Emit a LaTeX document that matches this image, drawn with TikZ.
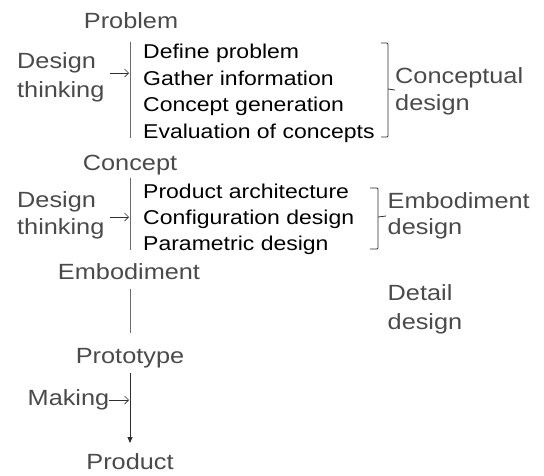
\documentclass[tikz,border=0pt]{standalone}
\usepackage{fontspec}
\setmainfont{Liberation Sans}[FakeStretch=1.15]
\usetikzlibrary{arrows.meta}
\definecolor{labelgray}{HTML}{4A4A4A}
\definecolor{linegray}{HTML}{6A6A6A}
\definecolor{inkdark}{HTML}{2E2E2E}
\begin{document}
\begin{tikzpicture}[x=1pt,y=-1pt,
  stage/.style={font=\fontsize{22}{26}\selectfont, text=labelgray, inner sep=0pt, anchor=base},
  side/.style={font=\fontsize{22}{26}\selectfont, text=labelgray, inner sep=0pt, anchor=base west},
  task/.style={font=\fontsize{20}{24}\selectfont, text=black, inner sep=0pt, anchor=base west},
  flow/.style={draw=linegray, line width=0.8pt},
  feed/.style={draw=inkdark, line width=0.7pt, -{Straight Barb[length=4pt,width=8pt]}},
  brace/.style={draw=inkdark, line width=0.8pt, rounded corners=1pt},
  finish/.style={draw=inkdark, line width=0.8pt, -{Triangle[length=6pt,width=5pt]}},
]
\useasboundingbox (0,0) rectangle (544,475);

% main column of stages
\node[stage] (problem) at (131,28) {Problem};
\node[stage] (concept) at (130,170) {Concept};
\node[stage] (embod)   at (129,279) {Embodiment};
\node[stage] (proto)   at (130,363) {Prototype};
\node[stage] (product) at (130,469.5) {Product};

% conceptual design block
\node[side] (dtA1) at (17,68) {Design};
\node[side] (dtA2) at (17,97) {thinking};
\node[task] (c1) at (143,58)  {Define problem};
\node[task] (c2) at (143,85)  {Gather information};
\node[task] (c3) at (143,111) {Concept generation};
\node[task] (c4) at (143,138) {Evaluation of concepts};
\coordinate (v1t) at (130,42);
\coordinate (v1b) at (130,138);
\coordinate (a1s) at (110,73);
\coordinate (a1e) at (129,73);
\draw[flow] (v1t) -- (v1b);
\draw[feed] (a1s) -- (a1e);

% embodiment design block
\node[side] (dtB1) at (17,207) {Design};
\node[side] (dtB2) at (17,234) {thinking};
\node[task] (e1) at (143,198) {Product architecture};
\node[task] (e2) at (143,224) {Configuration design};
\node[task] (e3) at (143,250) {Parametric design};
\coordinate (v2t) at (130,178);
\coordinate (v2b) at (130,250);
\coordinate (a2s) at (110,217);
\coordinate (a2e) at (129,217);
\draw[flow] (v2t) -- (v2b);
\draw[feed] (a2s) -- (a2e);

% embodiment to prototype
\coordinate (v3t) at (130,289);
\coordinate (v3b) at (130,333);
\draw[flow] (v3t) -- (v3b);

% making
\node[side] (make) at (27.5,405) {Making};
\coordinate (a3s) at (109,400);
\coordinate (a3e) at (129,400);
\coordinate (v4t) at (130,373);
\coordinate (v4b) at (130,443);
\draw[finish] (v4t) -- (v4b);
\draw[feed] (a3s) -- (a3e);

% brackets and phase names
\coordinate (b1t) at (381,43);
\coordinate (b1b) at (381,137);
\coordinate (b1m) at (388,89);
\draw[brace] (b1t) -- (388,43) -- (388,137) -- (b1b);
\draw[brace] (b1m) -- (395,90);
\node[side] (ph1a) at (395,83)  {Conceptual};
\node[side] (ph1b) at (395,110) {design};

\coordinate (b2t) at (370,188);
\coordinate (b2b) at (370,249);
\coordinate (b2m) at (378,217);
\draw[brace] (b2t) -- (378,188) -- (378,249) -- (b2b);
\draw[brace] (b2m) -- (386,216);
\node[side] (ph2a) at (387.5,208) {Embodiment};
\node[side] (ph2b) at (387.5,234) {design};

\node[side] (ph3a) at (387.5,300) {Detail};
\node[side] (ph3b) at (387.5,329) {design};
\end{tikzpicture}
\end{document}
